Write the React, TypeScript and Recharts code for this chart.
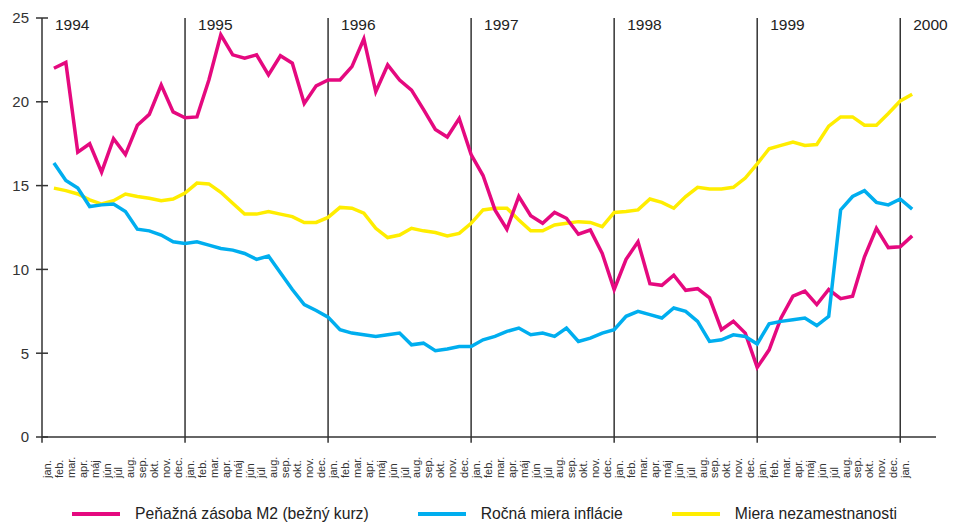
import React from 'react';
import { LineChart, Line, XAxis, YAxis, ReferenceLine } from 'recharts';

const FONT = '"Liberation Sans", Arial, Helvetica, sans-serif';

const MONTHS = ['jan.', 'feb.', 'mar.', 'apr.', 'máj', 'jún', 'júl', 'aug.', 'sep.', 'okt.', 'nov.', 'dec.'];
// jan. 1994 .. jan. 2000
const MONTH_LABELS = [...MONTHS, ...MONTHS, ...MONTHS, ...MONTHS, ...MONTHS, ...MONTHS, 'jan.'];
const YEARS = ['1994', '1995', '1996', '1997', '1998', '1999', '2000'];
const Y_TICKS = [0, 5, 10, 15, 20, 25];

const M2 = [
  22.0, 22.35, 17.0, 17.5, 15.8, 17.8, 16.85, 18.6, 19.25, 21.0, 19.4, 19.05,
  19.1, 21.3, 24.0, 22.8, 22.6, 22.8, 21.6, 22.75, 22.3, 19.9, 20.95, 21.3,
  21.3, 22.1, 23.75, 20.6, 22.2, 21.3, 20.7, 19.55, 18.35, 17.9, 19.0, 16.85,
  15.6, 13.55, 12.4, 14.35, 13.2, 12.75, 13.4, 13.05, 12.1, 12.35, 10.95, 8.8,
  10.6, 11.65, 9.15, 9.05, 9.65, 8.75, 8.85, 8.3, 6.4, 6.9, 6.2, 4.15,
  5.2, 7.1, 8.4, 8.7, 7.9, 8.8, 8.25, 8.4, 10.75, 12.45, 11.3, 11.35,
  12.0,
];

const INFLATION = [
  16.35, 15.3, 14.85, 13.75, 13.85, 13.9, 13.45, 12.4, 12.3, 12.05, 11.65, 11.55,
  11.65, 11.45, 11.25, 11.15, 10.95, 10.6, 10.8, 9.8, 8.8, 7.9, 7.55, 7.15,
  6.4, 6.2, 6.1, 6.0, 6.1, 6.2, 5.5, 5.6, 5.15, 5.25, 5.4, 5.4,
  5.8, 6.0, 6.3, 6.5, 6.1, 6.2, 6.0, 6.5, 5.7, 5.9, 6.2, 6.4,
  7.2, 7.5, 7.3, 7.1, 7.7, 7.5, 6.9, 5.7, 5.8, 6.1, 6.0, 5.55,
  6.75, 6.9, 7.0, 7.1, 6.65, 7.2, 13.55, 14.35, 14.7, 14.0, 13.85, 14.2,
  13.6,
];

const UNEMPLOYMENT = [
  14.85, 14.7, 14.5, 14.15, 13.9, 14.1, 14.5, 14.35, 14.25, 14.1, 14.2, 14.55,
  15.15, 15.1, 14.6, 13.95, 13.3, 13.3, 13.45, 13.3, 13.15, 12.8, 12.8, 13.1,
  13.7, 13.65, 13.35, 12.45, 11.9, 12.05, 12.45, 12.3, 12.2, 12.0, 12.15, 12.75,
  13.55, 13.65, 13.65, 12.95, 12.3, 12.3, 12.65, 12.75, 12.85, 12.8, 12.55, 13.4,
  13.45, 13.55, 14.2, 14.0, 13.65, 14.35, 14.9, 14.8, 14.8, 14.9, 15.45, 16.3,
  17.2, 17.4, 17.6, 17.4, 17.45, 18.55, 19.1, 19.1, 18.6, 18.6, 19.3, 20.05,
  20.45,
];

const SERIES = [
  { key: 'm2', name: 'Peňažná zásoba M2 (bežný kurz)', color: '#E5097F' },
  { key: 'inflation', name: 'Ročná miera inflácie', color: '#00AEEF' },
  { key: 'unemployment', name: 'Miera nezamestnanosti', color: '#FFED00' },
];

const data = MONTH_LABELS.map((m, i) => ({
  i,
  m2: M2[i],
  inflation: INFLATION[i],
  unemployment: UNEMPLOYMENT[i],
}));

// the year separators run through every december; the first one is the y axis itself
const yearLines = YEARS.map((year, k) => ({ year, x: k * 12 - 1 }));

const AXIS = '#333';
const LABEL_Y = 478;

const YTick = ({ x, y, payload }: any) => (
  <g>
    <line x1={x - 6} x2={x + 6} y1={y} y2={y} stroke={AXIS} strokeWidth={1.5} />
    <text x={x - 13} y={y} dy="0.36em" textAnchor="end" fontSize={15} fill="#333" fontFamily={FONT}>
      {payload.value}
    </text>
  </g>
);

const MonthTick = ({ x, payload }: any) => {
  const tx = x - 3;
  return (
    <text
      x={tx}
      y={LABEL_Y}
      transform={`rotate(-90 ${tx} ${LABEL_Y})`}
      textAnchor="start"
      fontSize={11}
      fill="#333"
      fontFamily={FONT}
    >
      {MONTH_LABELS[payload.value]}
    </text>
  );
};

const App = () => {
  return (
    <div style={{ position: 'absolute', left: 0, top: 0, width: 960, height: 523, background: '#fff', fontFamily: FONT }}>
      <LineChart width={960} height={523} data={data} margin={{ top: 18, right: 24, left: 0, bottom: 30 }}>
        <XAxis
          dataKey="i"
          type="number"
          domain={[-1, 74]}
          ticks={data.map(d => d.i)}
          interval={0}
          height={56}
          tickLine={false}
          axisLine={{ stroke: AXIS, strokeWidth: 1.5 }}
          tick={<MonthTick />}
        />
        <YAxis
          domain={[0, 25]}
          ticks={Y_TICKS}
          width={42}
          tickSize={0}
          tickMargin={0}
          tickLine={false}
          axisLine={false}
          tick={<YTick />}
        />
        {yearLines.map(l => (
          <ReferenceLine
            key={l.year}
            segment={[{ x: l.x, y: -0.35 }, { x: l.x, y: 25 }]}
            ifOverflow="visible"
            stroke={AXIS}
            strokeWidth={1.5}
            label={{
              content: (p: any) => (
                <text x={p.viewBox.x + 13} y={30} fontSize={15.5} fill="#222" fontFamily={FONT}>
                  {l.year}
                </text>
              ),
            }}
          />
        ))}
        <Line dataKey="unemployment" stroke="#FFED00" strokeWidth={3.5} dot={false} isAnimationActive={false} />
        <Line dataKey="m2" stroke="#E5097F" strokeWidth={3.5} dot={false} isAnimationActive={false} />
        <Line dataKey="inflation" stroke="#00AEEF" strokeWidth={3.5} dot={false} isAnimationActive={false} />
      </LineChart>

      <div style={{ position: 'absolute', left: 72, top: 505, height: 18, display: 'flex', alignItems: 'center', gap: 49 }}>
        {SERIES.map(s => (
          <div key={s.key} style={{ display: 'flex', alignItems: 'center' }}>
            <div style={{ width: 48, height: 4, background: s.color, marginRight: 15 }} />
            <span style={{ fontSize: 15.7, lineHeight: '18px', color: '#222', whiteSpace: 'nowrap' }}>{s.name}</span>
          </div>
        ))}
      </div>
    </div>
  );
};

export default App;
